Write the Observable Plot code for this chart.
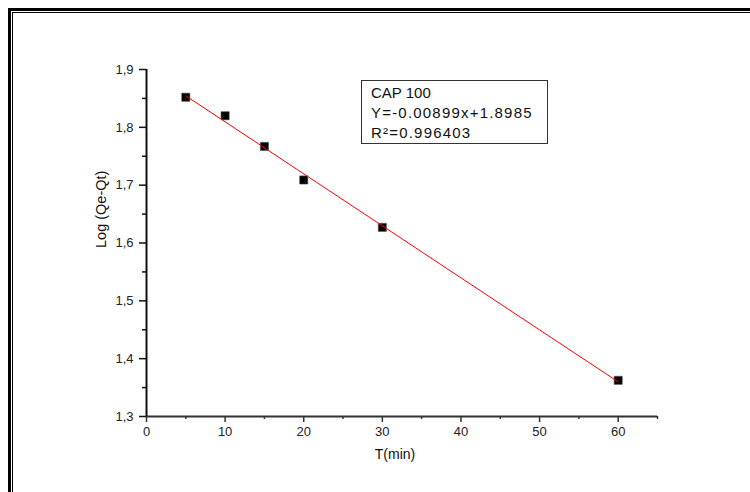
<!DOCTYPE html>
<html>
<head>
<meta charset="utf-8">
<script src="https://cdn.jsdelivr.net/npm/d3@7"></script>
<script src="https://cdn.jsdelivr.net/npm/@observablehq/plot@0.6"></script>
<style>
  html, body { margin: 0; padding: 0; background: #fff; }
  #wrap { position: relative; width: 750px; height: 492px; overflow: hidden; font-family: "Liberation Sans", Arial, sans-serif; }
  #wrap svg { position: absolute; left: 0; top: 0; }
  .frame-outer { position: absolute; left: 8px; top: 8px; width: 800px; height: 600px; border-left: 3px solid #000; border-top: 3px solid #000; }
  .frame-inner { position: absolute; left: 12px; top: 12px; width: 800px; height: 600px; border-left: 1.5px solid #000; border-top: 1.5px solid #000; }
  #legend { position: absolute; left: 361px; top: 80px; width: 176px; height: 60px; border: 1px solid #333; padding: 1.5px 0 0 9px; font-size: 15px; line-height: 20px; color: #111; box-sizing: content-box; white-space: nowrap; }
  #legend .wide { letter-spacing: 1.2px; }
</style>
</head>
<body>
<div id="wrap">
  <div class="frame-outer"></div>
  <div class="frame-inner"></div>
</div>
<script>
const times = [5, 10, 15, 20, 30, 60];
const logValues = [1.852, 1.820, 1.767, 1.709, 1.627, 1.3625];
const xTicks = [0, 10, 20, 30, 40, 50, 60];
const xMinorTicks = [5, 15, 25, 35, 45, 55, 65];
const yTicks = [1.3, 1.4, 1.5, 1.6, 1.7, 1.8, 1.9];
const yMinorTicks = [1.35, 1.45, 1.55, 1.65, 1.75, 1.85];
const legendLines = ["CAP 100", "Y=-0.00899x+1.8985", "R²=0.996403"];
const xLabel = "T(min)";
const yLabel = "Log (Qe-Qt)";

const data = times.map((t, i) => ({t, v: logValues[i]}));
const fmtY = d => d.toFixed(1).replace(".", ",");

const chart = Plot.plot({
  width: 750,
  height: 492,
  marginLeft: 146,
  marginRight: 93,
  marginTop: 69,
  marginBottom: 76,
  style: {fontFamily: "'Liberation Sans', Arial, sans-serif", background: "transparent", color: "#222"},
  x: {domain: [0, 65], label: null},
  y: {domain: [1.3, 1.9], label: null},
  marks: [
    Plot.axisX({ticks: xTicks, tickSize: 6, tickPadding: 4, fontSize: 13, label: null, stroke: "#333", strokeWidth: 1.5}),
    Plot.axisX({ticks: xMinorTicks, tickSize: 3, text: null, label: null, stroke: "#333", strokeWidth: 1.5}),
    Plot.axisY({ticks: yTicks, tickSize: 7, tickPadding: 6, fontSize: 13, tickFormat: fmtY, label: null, stroke: "#111", strokeWidth: 1.5}),
    Plot.axisY({ticks: yMinorTicks, tickSize: 4, text: null, label: null, stroke: "#111", strokeWidth: 1.5}),
    Plot.ruleY([1.3], {stroke: "#333", strokeWidth: 2}),
    Plot.ruleX([0], {stroke: "#111", strokeWidth: 2}),
    Plot.dot(data, {x: "t", y: "v", symbol: "square", r: 4.6, fill: "#000", stroke: "#555", strokeWidth: 0.6}),
    Plot.linearRegressionY(data, {x: "t", y: "v", stroke: "#ff0000", strokeWidth: 1, ci: 0}),
    Plot.text([xLabel], {frameAnchor: "bottom", dx: -7, dy: 42, fontSize: 14, fill: "#111"}),
    Plot.text([yLabel], {frameAnchor: "left", dx: -45, dy: 5, rotate: -90, fontSize: 14.5, fill: "#111"})
  ]
});

const wrap = document.getElementById("wrap");
wrap.appendChild(chart);
const legend = document.createElement("div");
legend.id = "legend";
legend.innerHTML = legendLines.map((s, i) => `<div class="${i > 0 ? "wide" : ""}">${s}</div>`).join("");
wrap.appendChild(legend);
</script>
</body>
</html>
